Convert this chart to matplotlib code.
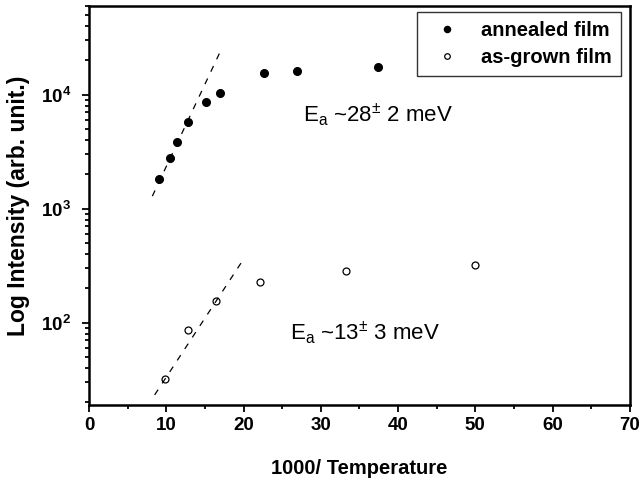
import numpy as np
import matplotlib
matplotlib.use('Agg')
import matplotlib.pyplot as plt
from matplotlib.ticker import FixedLocator, LogLocator, NullFormatter, FuncFormatter

plt.rcParams['font.family'] = ['Liberation Sans', 'DejaVu Sans']
plt.rcParams['mathtext.fontset'] = 'custom'
plt.rcParams['mathtext.rm'] = 'Liberation Sans'
plt.rcParams['mathtext.it'] = 'Liberation Sans:italic'
plt.rcParams['mathtext.bf'] = 'Liberation Sans:bold'

# data
annealed_x = [9.0, 10.5, 11.4, 12.8, 15.2, 16.9, 22.6, 26.9, 37.4]
annealed_y = [1840, 2810, 3840, 5730, 8590, 10300, 15600, 16000, 17500]
grown_x = [9.8, 12.8, 16.4, 22.1, 33.2, 49.9]
grown_y = [32, 87, 154, 226, 285, 320]

# fitted lines (end points)
fit_annealed_x = [8.2, 17.1]
fit_annealed_y = [1290, 24800]
fit_grown_x = [8.5, 19.8]
fit_grown_y = [23.3, 344]

fig = plt.figure(figsize=(6.42, 4.83), dpi=100)
ax = fig.add_axes([0.1386, 0.1615, 0.8425, 0.826])

ax.plot(annealed_x, annealed_y, 'o', color='black', ms=5.5, label='annealed film')
ax.plot(grown_x, grown_y, 'o', mfc='white', mec='black', mew=0.9, ms=5.0, label='as-grown film')
ax.plot(fit_annealed_x, fit_annealed_y, color='black', lw=0.9, ls=(0, (5, 6)))
ax.plot(fit_grown_x, fit_grown_y, color='black', lw=0.9, ls=(0, (5, 6)))

ax.set_yscale('log')
ax.set_xlim(0, 70)
ax.set_ylim(19, 60000)

ax.set_xticks(np.arange(0, 71, 10))
ax.xaxis.set_minor_locator(FixedLocator(np.arange(5, 70, 10)))
ax.yaxis.set_major_locator(FixedLocator([1e2, 1e3, 1e4]))
ax.yaxis.set_minor_locator(LogLocator(base=10, subs=np.arange(2, 10)))
ax.yaxis.set_minor_formatter(NullFormatter())
ax.yaxis.set_major_formatter(FuncFormatter(lambda v, p: r'$\mathbf{10^{%d}}$' % round(np.log10(v))))

ax.tick_params(which='both', direction='out', top=False, right=False, width=1.3)
ax.tick_params(which='major', length=5, labelsize=13.5)
ax.tick_params(axis='y', which='major', pad=8)
ax.tick_params(which='minor', length=3)
for lab in ax.get_xticklabels():
    lab.set_fontweight('bold')
for sp in ax.spines.values():
    sp.set_linewidth(1.8)

ax.set_xlabel('1000/ Temperature', fontsize=14.5, fontweight='bold', labelpad=18)
ax.set_ylabel('Log Intensity (arb. unit.)', fontsize=16.5, fontweight='bold', labelpad=8)

ax.text(0.395, 0.71, r'E$_\mathrm{a}$ ~28$^{\pm}$ 2 meV', transform=ax.transAxes, fontsize=16)
ax.text(0.372, 0.165, r'E$_\mathrm{a}$ ~13$^{\pm}$ 3 meV', transform=ax.transAxes, fontsize=16)

leg = ax.legend(loc='upper right', bbox_to_anchor=(0.983, 0.986), borderaxespad=0,
                frameon=True, fancybox=False, edgecolor='black',
                prop={'weight': 'bold', 'size': 14.5}, handletextpad=0.7,
                markerscale=0.8, borderpad=0.45, labelspacing=0.4, handlelength=2.0)
leg.get_frame().set_linewidth(1.0)

fig.savefig('out.png', dpi=100)
